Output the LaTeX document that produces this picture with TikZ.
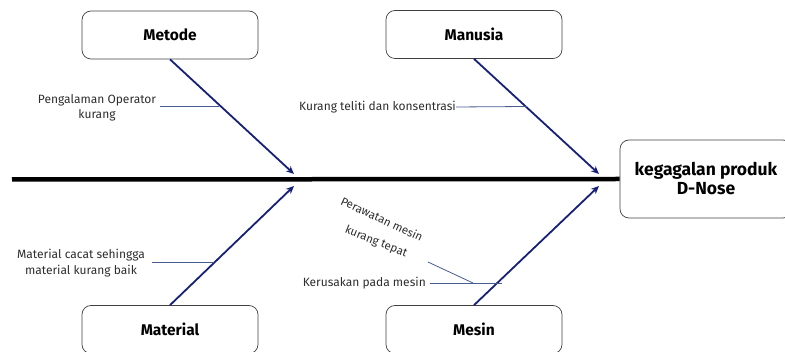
\documentclass[tikz,border=0pt]{standalone}
\usepackage{fontspec}
\setmainfont{Fira Sans}
\usetikzlibrary{arrows.meta}
\definecolor{navy}{RGB}{22,32,118}
\definecolor{subline}{RGB}{72,92,145}
\definecolor{lbl}{RGB}{45,45,45}
\tikzset{
  catbox/.style={draw=black!75, line width=0.7pt, rounded corners=9pt, minimum width=176pt, minimum height=48pt, inner sep=0pt, font=\fontsize{15.5}{17}\selectfont\bfseries},
  resbox/.style={draw=black!75, line width=0.7pt, rounded corners=9pt, minimum width=172pt, minimum height=78pt, inner sep=0pt, align=center, font=\fontsize{17.5}{19}\selectfont\bfseries},
  spine/.style={line width=4.5pt, black},
  bone/.style={navy, line width=1.8pt, -{Stealth[length=8pt,width=7pt]}},
  sub/.style={subline, line width=0.8pt},
  lab/.style={inner sep=0pt, text=lbl, font=\fontsize{12}{15.5}\selectfont, align=center},
  rlab/.style={inner sep=0pt, text=lbl, font=\fontsize{11.5}{14}\selectfont},
}
\begin{document}
\begin{tikzpicture}[x=1pt,y=-1pt]
\useasboundingbox (0,0) rectangle (785,352);
% boxes
\node[catbox] (metode) at (170,35) {Metode};
\node[catbox] (manusia) at (474,34.5) {Manusia};
\node[catbox] (material) at (170,329.5) {Material};
\node[catbox] (mesin) at (474,329.5) {Mesin};
\node[resbox] (res) at (706,179) {kegagalan produk\\D-Nose};
% spine
\coordinate (s0) at (12,179.5);
\draw[spine] (s0) -- (res.west);
% bones
\coordinate (e1) at (294,174);
\coordinate (e2) at (599,174);
\coordinate (e3) at (294,186);
\coordinate (e4) at (599,186);
\draw[bone] (metode.south) -- (e1);
\draw[bone] (manusia.south) -- (e2);
\draw[bone] (material.north) -- (e3);
\draw[bone] (mesin.north) -- (e4);
% labels
\node[lab] (l1) at (97,108) {Pengalaman Operator\\kurang};
\coordinate (l1a) at (160,106.5);
\coordinate (l1b) at (219,106.5);
\draw[sub] (l1a) -- (l1b);
\node[lab, anchor=east] (l2) at (456,107) {Kurang teliti dan konsentrasi};
\coordinate (l2b) at (527,106.5);
\draw[sub] (l2.east) -- (l2b);
\node[lab] (l3) at (81,263) {Material cacat sehingga\\material kurang baik};
\coordinate (l3a) at (152,262);
\coordinate (l3b) at (214,262);
\draw[sub] (l3a) -- (l3b);
\node[lab, anchor=east] (l4) at (426,283) {Kerusakan pada mesin};
\coordinate (l4a) at (430,283);
\coordinate (l4b) at (502,283);
\draw[sub] (l4a) -- (l4b);
\node[rlab, rotate=-25] (l5) at (382,219) {Perawatan mesin};
\node[rlab, rotate=-22] (l6) at (376,242) {kurang tepat};
\coordinate (l5a) at (428,262);
\coordinate (l5b) at (473,283);
\draw[sub] (l5a) -- (l5b);
\end{tikzpicture}
\end{document}
